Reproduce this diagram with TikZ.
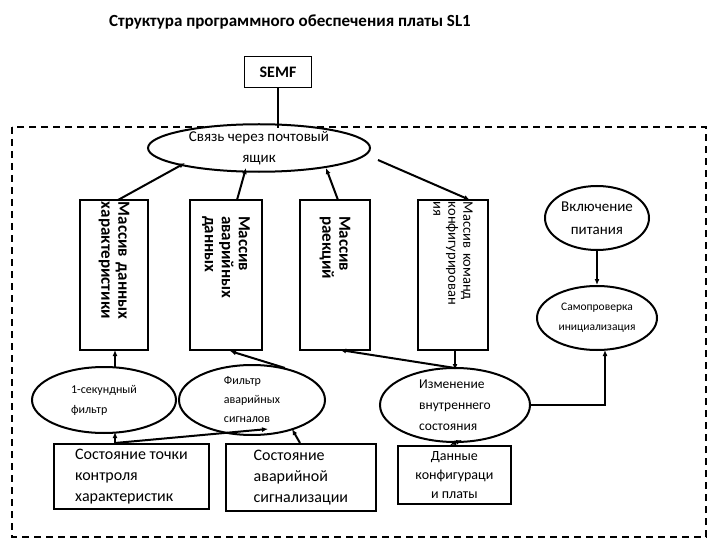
\documentclass[tikz,border=0pt]{standalone}
\usepackage{fontspec}
\setmainfont{Carlito}
\usetikzlibrary{arrows.meta,shapes.geometric}
\begin{document}
\begin{tikzpicture}[x=1pt,y=-1pt,
  ln/.style={line width=2pt},
  ar/.style={ln,-{Latex[length=6pt,width=5pt]}},
  el/.style={draw,ellipse,line width=2pt,inner sep=0pt,align=center},
  vb/.style={draw,line width=1.8pt,minimum width=150pt,minimum height=68pt,rotate=-90,align=left,font=\fontsize{17}{17}\selectfont\bfseries,inner sep=1pt,text width=146pt},
  bb/.style={draw,line width=1.8pt,align=left,font=\fontsize{16}{21}\selectfont,inner sep=2pt,anchor=north west}]
\useasboundingbox (0,0) rectangle (720,540);
\node[font=\fontsize{17}{17}\selectfont\bfseries] (title) at (290,22) {Структура программного обеспечения платы SL1};
\node[draw,line width=1.8pt,minimum width=67pt,minimum height=31pt,font=\fontsize{16}{16}\selectfont\bfseries] (semf) at (278,72) {SEMF};
\draw[line width=1.4pt,dash pattern=on 7pt off 5pt] (12,127) rectangle (706,537);
\node[el,minimum width=222pt,minimum height=40pt,fill=white,font=\fontsize{15}{21}\selectfont] (mail) at (259,148) {Связь через почтовый\\ящик};
\draw[line width=1.4pt] (semf.south) -- ++(0,40);
\node[vb] (b1) at (114,275) {Массив данных\\характеристики};
\node[vb,minimum height=72pt] (b2) at (226,275) {\hspace*{14pt}Массив\\\hspace*{14pt}аварийных\\\hspace*{14pt}данных};
\node[vb,minimum height=70pt] (b3) at (335,275) {\hspace*{14pt}Массив\\\hspace*{14pt}раекций};
\node[vb,minimum height=70pt,font=\fontsize{14.5}{15}\selectfont] (b4) at (453,275) {Массив команд\\конфигурирован\\ия};
\draw[ar] (118,200) -- (185,163);
\draw[ar] (237,200) -- (246,168);
\draw[ar] (338,200) -- (326,168);
\draw[ar] (378,160) -- (470,200);
\node[el,minimum width=104pt,minimum height=64pt,font=\fontsize{15}{23}\selectfont] (vkl) at (597,218) {Включение\\питания};
\node[el,minimum width=120pt,minimum height=64pt,font=\fontsize{11.5}{20}\selectfont] (self) at (597,318) {Самопроверка\\инициализация};
\draw[ar] (vkl.south) -- (self.north);
\node[el,minimum width=144pt,minimum height=66pt,font=\fontsize{12}{20}\selectfont,align=left] (f1) at (104,400) {1-секундный\\фильтр};
\node[el,minimum width=146pt,minimum height=70pt,font=\fontsize{12}{19}\selectfont,align=left] (f2) at (252,400) {Фильтр\\аварийных\\сигналов};
\node[el,minimum width=150pt,minimum height=74pt,font=\fontsize{13.5}{21}\selectfont,align=left] (ch) at (455,405) {Изменение\\внутреннего\\состояния};
\draw[ar] (115,367) -- (115,350);
\draw[ar] (285,368) -- (230,351);
\draw[ar] (455,368) -- (340,350);
\draw[ar] (455,350) -- (455,370);
\draw[ar] (ch.east) -- (605,405) -- (605,350);
\node[bb,minimum width=155pt,minimum height=65pt] (sA) at (53,443) {Состояние точки\\контроля\\характеристик};
\node[bb,minimum width=150pt,minimum height=67pt] (sB) at (225,443) {Состояние\\аварийной\\сигнализации};
\node[bb,minimum width=113pt,minimum height=58pt,align=center,anchor=north west,font=\fontsize{14}{19}\selectfont] (dat) at (397,445) {Данные\\конфигураци\\и платы};
\draw[ar] (115,443) -- (115,432);
\draw[ar] (115,443) -- (268,429);
\draw[ar] (300,443) -- (292,429);
\draw[ln,{Latex[length=6pt,width=5pt]}-{Latex[length=6pt,width=5pt]}] (450,445) -- (462,440);
\end{tikzpicture}
\end{document}
